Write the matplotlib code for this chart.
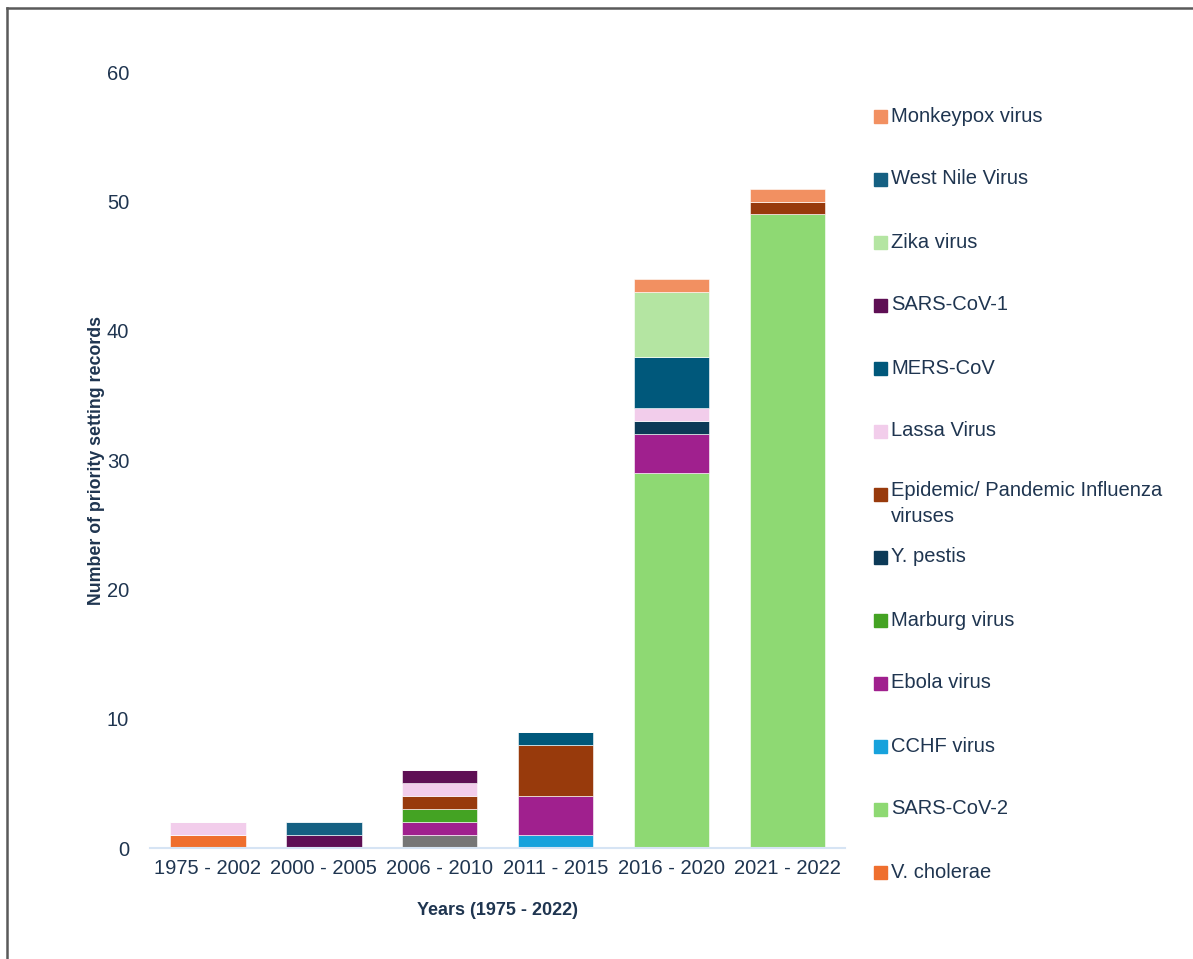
import numpy as np
import matplotlib.pyplot as plt
from matplotlib.patches import Rectangle
from matplotlib.lines import Line2D

plt.rcParams['font.family'] = ['Liberation Sans', 'DejaVu Sans']

# 时间段
periods = ['1975 - 2002', '2000 - 2005', '2006 - 2010', '2011 - 2015', '2016 - 2020', '2021 - 2022']

# 各病原体在每个时间段的记录数（自下而上堆叠）
other       = [0, 0, 1, 0, 0, 0]
v_cholerae  = [1, 0, 0, 0, 0, 0]
sars_cov_2  = [0, 0, 0, 0, 29, 49]
cchf        = [0, 0, 0, 1, 0, 0]
ebola       = [0, 0, 1, 3, 3, 0]
marburg     = [0, 0, 1, 0, 0, 0]
y_pestis    = [0, 0, 0, 0, 1, 0]
influenza   = [0, 0, 1, 4, 0, 1]
lassa       = [1, 0, 1, 0, 1, 0]
mers_cov    = [0, 0, 0, 1, 4, 0]
sars_cov_1  = [0, 1, 1, 0, 0, 0]
zika        = [0, 0, 0, 0, 5, 0]
west_nile   = [0, 1, 0, 0, 0, 0]
monkeypox   = [0, 0, 0, 0, 1, 1]

series = [
    ('_other', other, '#767676'),
    ('V. cholerae', v_cholerae, '#ef6f2e'),
    ('SARS-CoV-2', sars_cov_2, '#8ed973'),
    ('CCHF virus', cchf, '#17a2dc'),
    ('Ebola virus', ebola, '#a0208e'),
    ('Marburg virus', marburg, '#44a323'),
    ('Y. pestis', y_pestis, '#0c3a57'),
    ('Epidemic/ Pandemic Influenza\nviruses', influenza, '#983a0c'),
    ('Lassa Virus', lassa, '#f2cdeb'),
    ('MERS-CoV', mers_cov, '#00587b'),
    ('SARS-CoV-1', sars_cov_1, '#5e0f54'),
    ('Zika virus', zika, '#b4e5a2'),
    ('West Nile Virus', west_nile, '#156082'),
    ('Monkeypox virus', monkeypox, '#f29061'),
]

text_color = '#1f3550'

fig = plt.figure(figsize=(11.93, 9.59), dpi=100)
ax = fig.add_axes([0.1257, 0.1157, 0.583, 0.809])

x = np.arange(len(periods))
bottom = np.zeros(len(periods))
for name, vals, color in series:
    vals = np.array(vals, dtype=float)
    ax.bar(x, vals, width=0.65, bottom=bottom, color=color,
           edgecolor='white', linewidth=0.4, label=name, zorder=2)
    bottom += vals

ax.set_xlim(-0.5, len(periods) - 0.5)
ax.set_ylim(0, 60)
ax.set_yticks(range(0, 61, 10))
ax.set_xticks(x)
ax.set_xticklabels(periods)
ax.tick_params(axis='both', length=0, labelsize=14.5, colors=text_color)
ax.tick_params(axis='y', pad=15)
ax.tick_params(axis='x', pad=8)
for s in ['top', 'right', 'left']:
    ax.spines[s].set_visible(False)
ax.spines['bottom'].set_color('#d6e4f4')
ax.spines['bottom'].set_linewidth(1.5)

ax.set_xlabel('Years (1975 - 2022)', fontsize=13, fontweight='bold',
              color=text_color, labelpad=17)
ax.set_ylabel('Number of priority setting records', fontsize=12.8,
              fontweight='bold', color=text_color, labelpad=1)

# 手工绘制图例（从上到下与堆叠顺序相反）
W, H = fig.get_size_inches() * fig.dpi
y0 = 116
step = 63
entries = [s for s in series if not s[0].startswith('_')][::-1]
for i, (name, vals, color) in enumerate(entries):
    yc = y0 + i * step
    fig.patches.append(Rectangle((874 / W, 1 - (yc + 6.5) / H), 13 / W, 13 / H,
                                 transform=fig.transFigure, color=color))
    if '\n' in name:
        fig.text(891 / W, 1 - (yc - 13) / H, name, fontsize=14.5, color=text_color,
                 va='top', ha='left', linespacing=1.45)
    else:
        fig.text(891 / W, 1 - yc / H, name, fontsize=14.5, color=text_color,
                 va='center', ha='left')

# 外框线（左、上）
fig.add_artist(Line2D([7 / W, 7 / W], [0, 1 - 8 / H], transform=fig.transFigure,
                      color='#5a5a5a', linewidth=1.8))
fig.add_artist(Line2D([7 / W, 1], [1 - 8 / H, 1 - 8 / H], transform=fig.transFigure,
                      color='#5a5a5a', linewidth=1.8))

fig.savefig('out.png', dpi=100)
